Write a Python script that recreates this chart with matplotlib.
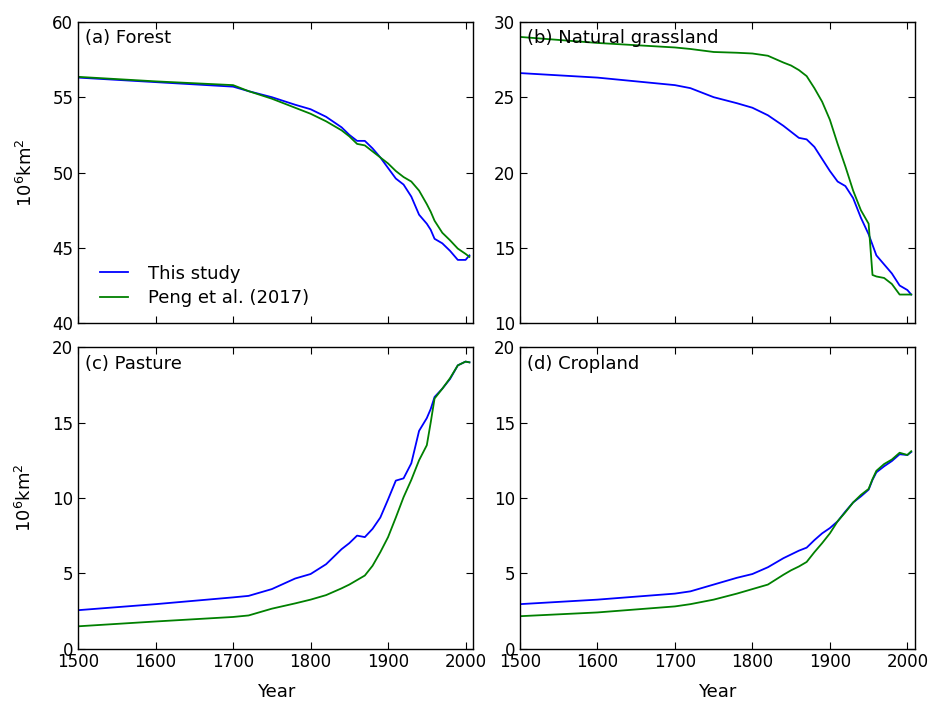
import matplotlib
matplotlib.use("Agg")
import matplotlib.pyplot as plt

years = [1500, 1600, 1700, 1720, 1750, 1780, 1800, 1820, 1840, 1850, 1860, 1870, 1880,
         1890, 1900, 1910, 1920, 1930, 1940, 1950, 1955, 1960, 1970, 1980, 1990, 2000, 2005]

forest_this = [56.3, 56.0, 55.7, 55.4, 55.0, 54.5, 54.2, 53.7, 53.0, 52.5, 52.1, 52.1, 51.6,
               51.0, 50.3, 49.6, 49.2, 48.4, 47.2, 46.6, 46.2, 45.6, 45.3, 44.8, 44.2, 44.2, 44.5]
forest_peng = [56.35, 56.05, 55.8, 55.4, 54.9, 54.3, 53.9, 53.4, 52.8, 52.4, 51.9, 51.8, 51.4,
               51.0, 50.6, 50.1, 49.7, 49.4, 48.8, 47.9, 47.4, 46.8, 46.0, 45.5, 44.95, 44.6, 44.4]

grass_this = [26.6, 26.3, 25.8, 25.6, 25.0, 24.6, 24.3, 23.8, 23.1, 22.7, 22.3, 22.2, 21.7,
              20.9, 20.1, 19.4, 19.1, 18.3, 17.0, 15.9, 15.2, 14.5, 13.9, 13.3, 12.5, 12.2, 11.9]
grass_peng = [29.0, 28.6, 28.3, 28.2, 28.0, 27.95, 27.9, 27.75, 27.3, 27.1, 26.8, 26.4, 25.6,
              24.7, 23.5, 21.9, 20.4, 18.8, 17.5, 16.6, 13.2, 13.1, 13.0, 12.6, 11.9, 11.9, 11.9]

pasture_this = [2.55, 2.95, 3.4, 3.5, 3.95, 4.65, 4.95, 5.6, 6.6, 7.0, 7.5, 7.4, 7.95,
                8.7, 9.9, 11.15, 11.3, 12.3, 14.45, 15.3, 15.9, 16.7, 17.25, 17.9, 18.8, 19.05, 19.0]
pasture_peng = [1.48, 1.8, 2.1, 2.2, 2.65, 3.0, 3.25, 3.55, 4.0, 4.25, 4.55, 4.85, 5.5,
                6.4, 7.4, 8.7, 10.05, 11.2, 12.5, 13.5, 15.0, 16.6, 17.25, 17.95, 18.8, 19.05, 19.0]

crop_this = [2.95, 3.25, 3.65, 3.8, 4.25, 4.7, 4.95, 5.4, 6.0, 6.25, 6.5, 6.7, 7.2,
             7.65, 8.0, 8.45, 9.1, 9.7, 10.1, 10.55, 11.2, 11.7, 12.1, 12.45, 12.9, 12.85, 13.05]
crop_peng = [2.15, 2.4, 2.8, 2.95, 3.25, 3.65, 3.95, 4.25, 4.9, 5.2, 5.45, 5.75, 6.4,
             7.0, 7.65, 8.45, 9.05, 9.7, 10.2, 10.6, 11.25, 11.8, 12.25, 12.55, 13.0, 12.85, 13.1]

panels = [
    ("(a) Forest", forest_this, forest_peng, (40, 60)),
    ("(b) Natural grassland", grass_this, grass_peng, (10, 30)),
    ("(c) Pasture", pasture_this, pasture_peng, (0, 20)),
    ("(d) Cropland", crop_this, crop_peng, (0, 20)),
]

plt.rcParams['font.size'] = 13
plt.rcParams['xtick.labelsize'] = 12
plt.rcParams['ytick.labelsize'] = 12
plt.rcParams['xtick.direction'] = 'in'
plt.rcParams['ytick.direction'] = 'in'
plt.rcParams['xtick.top'] = True
plt.rcParams['ytick.right'] = True
plt.rcParams['xtick.major.size'] = 5
plt.rcParams['ytick.major.size'] = 5
plt.rcParams['axes.linewidth'] = 1.0

fig, axes = plt.subplots(2, 2, figsize=(9.3, 7.05), dpi=100)
fig.subplots_adjust(left=0.084, right=0.984, top=0.969, bottom=0.080,
                    wspace=0.118, hspace=0.08)

for ax, (title, this, peng, ylim) in zip(axes.flat, panels):
    ax.plot(years, this, color=(0, 0, 1), lw=1.3, label="This study")
    ax.plot(years, peng, color=(0, 0.5, 0), lw=1.3, label="Peng et al. (2017)")
    ax.set_xlim(1500, 2010)
    ax.set_ylim(*ylim)
    ax.set_yticks(range(ylim[0], ylim[1] + 1, 5))
    ax.set_xticks(range(1500, 2001, 100))
    ax.text(0.018, 0.975, title, transform=ax.transAxes, va='top', ha='left')

for ax in axes[0]:
    ax.set_xticklabels([])
for ax in axes[1]:
    ax.set_xlabel("Year", labelpad=8)
for ax in axes[:, 0]:
    ax.set_ylabel("10$^6$km$^2$", labelpad=12)

axes[0, 0].legend(loc='lower left', bbox_to_anchor=(0.015, 0.0), frameon=False,
                  handlelength=1.55, handletextpad=1.1, labelspacing=0.35)

fig.savefig("out.png")
